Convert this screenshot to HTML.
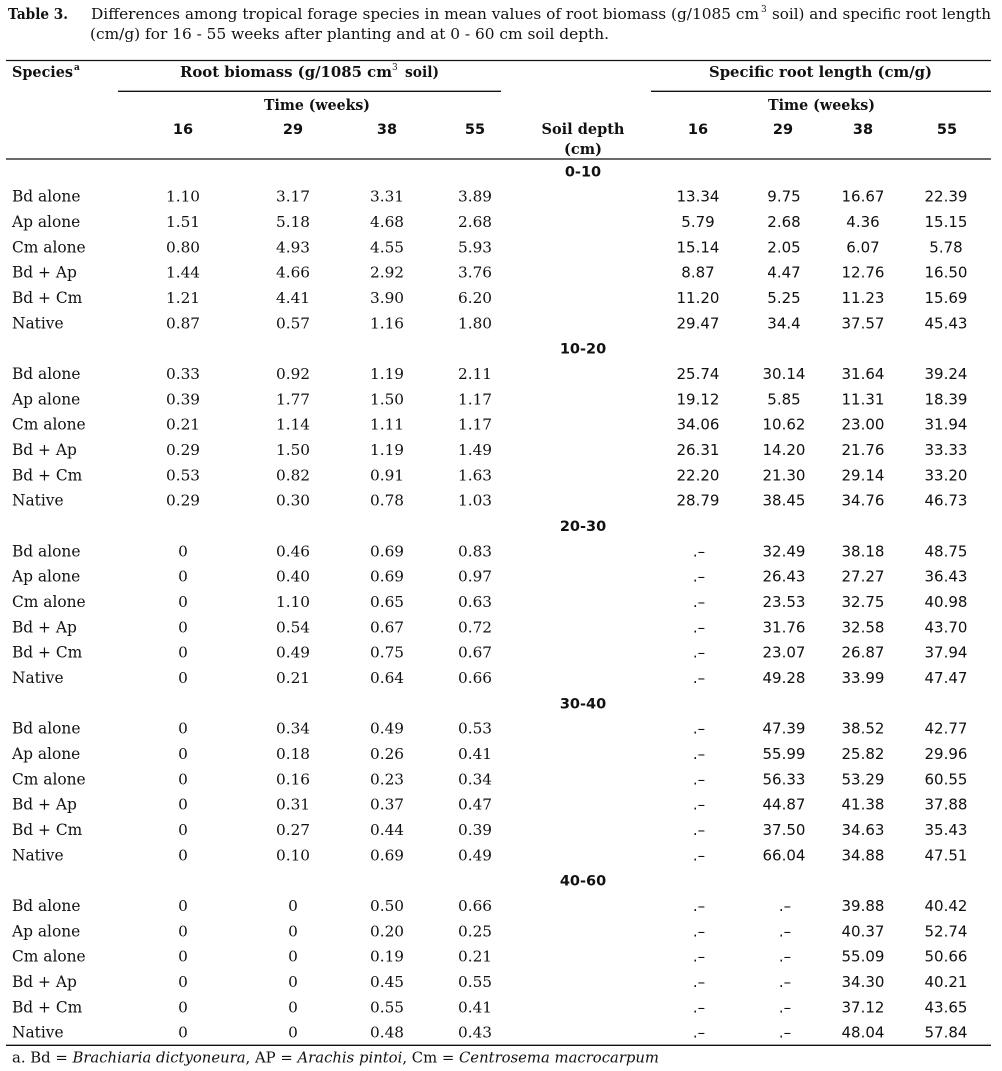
<!DOCTYPE html>
<html><head><meta charset="utf-8"><style>
html,body{margin:0;padding:0;background:#fff;}
svg{display:block;}
.t{font-family:"DejaVu Serif","Liberation Serif",serif;font-size:15px;fill:#111;}
.tb{font-family:"DejaVu Serif","Liberation Serif",serif;font-size:14.5px;font-weight:bold;fill:#111;}
.hb{font-family:"DejaVu Serif","Liberation Serif",serif;font-size:14.5px;font-weight:bold;fill:#111;text-anchor:middle;}
.hs{font-family:"DejaVu Sans","Liberation Sans",sans-serif;font-size:14.5px;font-weight:bold;fill:#111;text-anchor:middle;}
.L text{font-family:"DejaVu Serif","Liberation Serif",serif;font-size:15.3px;fill:#111;text-anchor:middle;}
.L text.l{text-anchor:start;font-size:15.4px;}
.R text{font-family:"DejaVu Sans","Liberation Sans",sans-serif;font-size:15px;fill:#111;text-anchor:middle;}
.sec{font-family:"DejaVu Sans","Liberation Sans",sans-serif;font-size:14.5px;font-weight:bold;fill:#111;text-anchor:middle;}
.fn{font-family:"DejaVu Serif","Liberation Serif",serif;font-size:15px;fill:#111;}
</style></head><body>
<svg width="1002" height="1071" viewBox="0 0 1002 1071" xmlns="http://www.w3.org/2000/svg">
<!-- Title -->
<text class="tb" x="8" y="19" textLength="60" lengthAdjust="spacingAndGlyphs">Table 3.</text>
<text class="t" x="91" y="19" textLength="668" lengthAdjust="spacingAndGlyphs">Differences among tropical forage species in mean values of root biomass (g/1085 cm</text>
<text class="t" x="761" y="12" style="font-size:9px">3</text>
<text class="t" x="772" y="19" textLength="219" lengthAdjust="spacingAndGlyphs">soil) and specific root length</text>
<text class="t" x="90" y="39" textLength="519" lengthAdjust="spacingAndGlyphs">(cm/g) for 16 - 55 weeks after planting and at 0 - 60 cm soil depth.</text>

<!-- rules -->
<g stroke="#111" stroke-width="1.3">
<line x1="6" y1="60.5" x2="991" y2="60.5"/>
<line x1="118" y1="91.3" x2="501" y2="91.3"/>
<line x1="651" y1="91.3" x2="991" y2="91.3"/>
<line x1="6" y1="159" x2="991" y2="159"/>
<line x1="6" y1="1045.3" x2="991" y2="1045.3"/>
</g>

<!-- header -->
<text class="tb" x="12" y="77" textLength="61" lengthAdjust="spacingAndGlyphs">Species</text>
<text class="t" x="74" y="70" style="font-size:9px;font-weight:bold">a</text>
<text class="tb" x="180" y="77" textLength="212" lengthAdjust="spacingAndGlyphs">Root biomass (g/1085 cm</text>
<text class="t" x="392" y="70" style="font-size:9px">3</text>
<text class="tb" x="405" y="77" textLength="34" lengthAdjust="spacingAndGlyphs">soil)</text>
<text class="tb" x="709" y="77" textLength="223" lengthAdjust="spacingAndGlyphs">Specific root length (cm/g)</text>
<text class="tb" x="264" y="110" textLength="106" lengthAdjust="spacingAndGlyphs">Time (weeks)</text>
<text class="tb" x="768" y="110" textLength="107" lengthAdjust="spacingAndGlyphs">Time (weeks)</text>
<text class="hs" x="183" y="134">16</text>
<text class="hs" x="293" y="134">29</text>
<text class="hs" x="387" y="134">38</text>
<text class="hs" x="475" y="134">55</text>
<text class="hb" x="583" y="134">Soil depth</text>
<text class="hb" x="583" y="154">(cm)</text>
<text class="hs" x="698" y="134">16</text>
<text class="hs" x="783" y="134">29</text>
<text class="hs" x="863" y="134">38</text>
<text class="hs" x="947" y="134">55</text>

<!-- section headers -->
<text class="sec" x="583" y="176.3">0-10</text>
<text class="sec" x="583" y="353.6">10-20</text>
<text class="sec" x="583" y="531">20-30</text>
<text class="sec" x="583" y="708.3">30-40</text>
<text class="sec" x="583" y="885.6">40-60</text>

<!-- Section 0-10 -->
<g transform="translate(0,201.6)"><g class="L"><text class="l" x="12">Bd alone</text><text x="183">1.10</text><text x="293">3.17</text><text x="387">3.31</text><text x="475">3.89</text></g><g class="R"><text x="698">13.34</text><text x="784">9.75</text><text x="863">16.67</text><text x="946">22.39</text></g></g>
<g transform="translate(0,227)"><g class="L"><text class="l" x="12">Ap alone</text><text x="183">1.51</text><text x="293">5.18</text><text x="387">4.68</text><text x="475">2.68</text></g><g class="R"><text x="698">5.79</text><text x="784">2.68</text><text x="863">4.36</text><text x="946">15.15</text></g></g>
<g transform="translate(0,252.3)"><g class="L"><text class="l" x="12">Cm alone</text><text x="183">0.80</text><text x="293">4.93</text><text x="387">4.55</text><text x="475">5.93</text></g><g class="R"><text x="698">15.14</text><text x="784">2.05</text><text x="863">6.07</text><text x="946">5.78</text></g></g>
<g transform="translate(0,277.6)"><g class="L"><text class="l" x="12">Bd + Ap</text><text x="183">1.44</text><text x="293">4.66</text><text x="387">2.92</text><text x="475">3.76</text></g><g class="R"><text x="698">8.87</text><text x="784">4.47</text><text x="863">12.76</text><text x="946">16.50</text></g></g>
<g transform="translate(0,303)"><g class="L"><text class="l" x="12">Bd + Cm</text><text x="183">1.21</text><text x="293">4.41</text><text x="387">3.90</text><text x="475">6.20</text></g><g class="R"><text x="698">11.20</text><text x="784">5.25</text><text x="863">11.23</text><text x="946">15.69</text></g></g>
<g transform="translate(0,328.3)"><g class="L"><text class="l" x="12">Native</text><text x="183">0.87</text><text x="293">0.57</text><text x="387">1.16</text><text x="475">1.80</text></g><g class="R"><text x="698">29.47</text><text x="784">34.4</text><text x="863">37.57</text><text x="946">45.43</text></g></g>

<!-- Section 10-20 -->
<g transform="translate(0,379)"><g class="L"><text class="l" x="12">Bd alone</text><text x="183">0.33</text><text x="293">0.92</text><text x="387">1.19</text><text x="475">2.11</text></g><g class="R"><text x="698">25.74</text><text x="784">30.14</text><text x="863">31.64</text><text x="946">39.24</text></g></g>
<g transform="translate(0,404.3)"><g class="L"><text class="l" x="12">Ap alone</text><text x="183">0.39</text><text x="293">1.77</text><text x="387">1.50</text><text x="475">1.17</text></g><g class="R"><text x="698">19.12</text><text x="784">5.85</text><text x="863">11.31</text><text x="946">18.39</text></g></g>
<g transform="translate(0,429.6)"><g class="L"><text class="l" x="12">Cm alone</text><text x="183">0.21</text><text x="293">1.14</text><text x="387">1.11</text><text x="475">1.17</text></g><g class="R"><text x="698">34.06</text><text x="784">10.62</text><text x="863">23.00</text><text x="946">31.94</text></g></g>
<g transform="translate(0,455)"><g class="L"><text class="l" x="12">Bd + Ap</text><text x="183">0.29</text><text x="293">1.50</text><text x="387">1.19</text><text x="475">1.49</text></g><g class="R"><text x="698">26.31</text><text x="784">14.20</text><text x="863">21.76</text><text x="946">33.33</text></g></g>
<g transform="translate(0,480.3)"><g class="L"><text class="l" x="12">Bd + Cm</text><text x="183">0.53</text><text x="293">0.82</text><text x="387">0.91</text><text x="475">1.63</text></g><g class="R"><text x="698">22.20</text><text x="784">21.30</text><text x="863">29.14</text><text x="946">33.20</text></g></g>
<g transform="translate(0,505.6)"><g class="L"><text class="l" x="12">Native</text><text x="183">0.29</text><text x="293">0.30</text><text x="387">0.78</text><text x="475">1.03</text></g><g class="R"><text x="698">28.79</text><text x="784">38.45</text><text x="863">34.76</text><text x="946">46.73</text></g></g>

<!-- Section 20-30 -->
<g transform="translate(0,556.3)"><g class="L"><text class="l" x="12">Bd alone</text><text x="183">0</text><text x="293">0.46</text><text x="387">0.69</text><text x="475">0.83</text></g><g class="R"><text x="699">.–</text><text x="784">32.49</text><text x="863">38.18</text><text x="946">48.75</text></g></g>
<g transform="translate(0,581.6)"><g class="L"><text class="l" x="12">Ap alone</text><text x="183">0</text><text x="293">0.40</text><text x="387">0.69</text><text x="475">0.97</text></g><g class="R"><text x="699">.–</text><text x="784">26.43</text><text x="863">27.27</text><text x="946">36.43</text></g></g>
<g transform="translate(0,607)"><g class="L"><text class="l" x="12">Cm alone</text><text x="183">0</text><text x="293">1.10</text><text x="387">0.65</text><text x="475">0.63</text></g><g class="R"><text x="699">.–</text><text x="784">23.53</text><text x="863">32.75</text><text x="946">40.98</text></g></g>
<g transform="translate(0,632.3)"><g class="L"><text class="l" x="12">Bd + Ap</text><text x="183">0</text><text x="293">0.54</text><text x="387">0.67</text><text x="475">0.72</text></g><g class="R"><text x="699">.–</text><text x="784">31.76</text><text x="863">32.58</text><text x="946">43.70</text></g></g>
<g transform="translate(0,657.6)"><g class="L"><text class="l" x="12">Bd + Cm</text><text x="183">0</text><text x="293">0.49</text><text x="387">0.75</text><text x="475">0.67</text></g><g class="R"><text x="699">.–</text><text x="784">23.07</text><text x="863">26.87</text><text x="946">37.94</text></g></g>
<g transform="translate(0,683)"><g class="L"><text class="l" x="12">Native</text><text x="183">0</text><text x="293">0.21</text><text x="387">0.64</text><text x="475">0.66</text></g><g class="R"><text x="699">.–</text><text x="784">49.28</text><text x="863">33.99</text><text x="946">47.47</text></g></g>

<!-- Section 30-40 -->
<g transform="translate(0,733.6)"><g class="L"><text class="l" x="12">Bd alone</text><text x="183">0</text><text x="293">0.34</text><text x="387">0.49</text><text x="475">0.53</text></g><g class="R"><text x="699">.–</text><text x="784">47.39</text><text x="863">38.52</text><text x="946">42.77</text></g></g>
<g transform="translate(0,759)"><g class="L"><text class="l" x="12">Ap alone</text><text x="183">0</text><text x="293">0.18</text><text x="387">0.26</text><text x="475">0.41</text></g><g class="R"><text x="699">.–</text><text x="784">55.99</text><text x="863">25.82</text><text x="946">29.96</text></g></g>
<g transform="translate(0,784.3)"><g class="L"><text class="l" x="12">Cm alone</text><text x="183">0</text><text x="293">0.16</text><text x="387">0.23</text><text x="475">0.34</text></g><g class="R"><text x="699">.–</text><text x="784">56.33</text><text x="863">53.29</text><text x="946">60.55</text></g></g>
<g transform="translate(0,809.6)"><g class="L"><text class="l" x="12">Bd + Ap</text><text x="183">0</text><text x="293">0.31</text><text x="387">0.37</text><text x="475">0.47</text></g><g class="R"><text x="699">.–</text><text x="784">44.87</text><text x="863">41.38</text><text x="946">37.88</text></g></g>
<g transform="translate(0,835)"><g class="L"><text class="l" x="12">Bd + Cm</text><text x="183">0</text><text x="293">0.27</text><text x="387">0.44</text><text x="475">0.39</text></g><g class="R"><text x="699">.–</text><text x="784">37.50</text><text x="863">34.63</text><text x="946">35.43</text></g></g>
<g transform="translate(0,860.3)"><g class="L"><text class="l" x="12">Native</text><text x="183">0</text><text x="293">0.10</text><text x="387">0.69</text><text x="475">0.49</text></g><g class="R"><text x="699">.–</text><text x="784">66.04</text><text x="863">34.88</text><text x="946">47.51</text></g></g>

<!-- Section 40-60 -->
<g transform="translate(0,911)"><g class="L"><text class="l" x="12">Bd alone</text><text x="183">0</text><text x="293">0</text><text x="387">0.50</text><text x="475">0.66</text></g><g class="R"><text x="699">.–</text><text x="785">.–</text><text x="863">39.88</text><text x="946">40.42</text></g></g>
<g transform="translate(0,936.3)"><g class="L"><text class="l" x="12">Ap alone</text><text x="183">0</text><text x="293">0</text><text x="387">0.20</text><text x="475">0.25</text></g><g class="R"><text x="699">.–</text><text x="785">.–</text><text x="863">40.37</text><text x="946">52.74</text></g></g>
<g transform="translate(0,961.6)"><g class="L"><text class="l" x="12">Cm alone</text><text x="183">0</text><text x="293">0</text><text x="387">0.19</text><text x="475">0.21</text></g><g class="R"><text x="699">.–</text><text x="785">.–</text><text x="863">55.09</text><text x="946">50.66</text></g></g>
<g transform="translate(0,987)"><g class="L"><text class="l" x="12">Bd + Ap</text><text x="183">0</text><text x="293">0</text><text x="387">0.45</text><text x="475">0.55</text></g><g class="R"><text x="699">.–</text><text x="785">.–</text><text x="863">34.30</text><text x="946">40.21</text></g></g>
<g transform="translate(0,1012.3)"><g class="L"><text class="l" x="12">Bd + Cm</text><text x="183">0</text><text x="293">0</text><text x="387">0.55</text><text x="475">0.41</text></g><g class="R"><text x="699">.–</text><text x="785">.–</text><text x="863">37.12</text><text x="946">43.65</text></g></g>
<g transform="translate(0,1037.6)"><g class="L"><text class="l" x="12">Native</text><text x="183">0</text><text x="293">0</text><text x="387">0.48</text><text x="475">0.43</text></g><g class="R"><text x="699">.–</text><text x="785">.–</text><text x="863">48.04</text><text x="946">57.84</text></g></g>

<!-- footnote -->
<text class="fn" x="12" y="1062.7" textLength="647" lengthAdjust="spacingAndGlyphs">a. Bd = <tspan font-style="italic">Brachiaria dictyoneura</tspan>, AP = <tspan font-style="italic">Arachis pintoi</tspan>, Cm = <tspan font-style="italic">Centrosema macrocarpum</tspan></text>
</svg>
</body></html>
